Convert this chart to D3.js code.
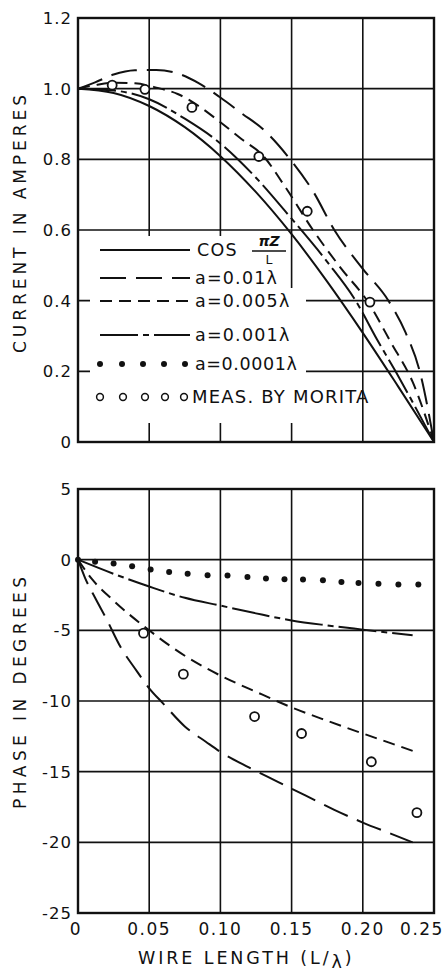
<!DOCTYPE html>
<html>
<head>
<meta charset="utf-8">
<script src="https://cdn.jsdelivr.net/npm/d3@7"></script>
<style>
  html, body { margin: 0; padding: 0; background: #fff; }
  svg { display: block; }
  text { font-family: "DejaVu Sans", sans-serif; fill: #111; }
</style>
</head>
<body>
<svg id="chart" width="444" height="972"></svg>
<script>
/* ── Data ──────────────────────────────────────────────────────── */
const X_TICKS      = [0, 0.05, 0.10, 0.15, 0.20, 0.25];
const X_LABELS     = ['0', '0.05', '0.10', '0.15', '0.20', '0.25'];
const AMP_TICKS    = [0, 0.2, 0.4, 0.6, 0.8, 1.0, 1.2];
const AMP_LABELS   = ['0', '0.2', '0.4', '0.6', '0.8', '1.0', '1.2'];
const DEG_TICKS    = [5, 0, -5, -10, -15, -20, -25];
const DEG_LABELS   = ['5', '0', '-5', '-10', '-15', '-20', '-25'];

// current (top panel)
const COS_X  = [0, 0.025, 0.05, 0.075, 0.10, 0.125, 0.15, 0.175, 0.20, 0.225, 0.25];
const COS_I  = [1.0, 0.988, 0.951, 0.891, 0.809, 0.707, 0.588, 0.454, 0.309, 0.156, 0];
const A001_X = [0, 0.025, 0.05, 0.075, 0.10, 0.125, 0.15, 0.175, 0.195, 0.21, 0.223, 0.25];
const A001_I = [1.0, 0.995, 0.970, 0.915, 0.845, 0.748, 0.632, 0.51, 0.40, 0.29, 0.20, 0];
const A005_X = [0, 0.012, 0.025, 0.04, 0.055, 0.07, 0.085, 0.10, 0.115, 0.13, 0.145, 0.165, 0.185, 0.203, 0.22, 0.235, 0.25];
const A005_I = [1.0, 1.01, 1.017, 1.015, 1.003, 0.985, 0.95, 0.905, 0.857, 0.81, 0.725, 0.60, 0.49, 0.40, 0.28, 0.17, 0];
const A01_X  = [0, 0.012, 0.025, 0.04, 0.055, 0.07, 0.085, 0.10, 0.115, 0.13, 0.149, 0.165, 0.18, 0.20, 0.218, 0.23, 0.24, 0.25];
const A01_I  = [1.0, 1.018, 1.04, 1.052, 1.053, 1.043, 1.015, 0.975, 0.93, 0.885, 0.80, 0.71, 0.60, 0.49, 0.40, 0.31, 0.20, 0];
const MEAS_I_X = [0.024, 0.047, 0.080, 0.127, 0.161, 0.205];
const MEAS_I   = [1.01, 0.998, 0.947, 0.808, 0.653, 0.396];

// phase (bottom panel)
const PH001_X  = [0, 0.025, 0.05, 0.075, 0.10, 0.125, 0.15, 0.175, 0.20, 0.235];
const PH001    = [0, -1.0, -1.9, -2.7, -3.25, -3.8, -4.3, -4.65, -4.95, -5.35];
const PH005_X  = [0, 0.01, 0.025, 0.05, 0.075, 0.10, 0.125, 0.15, 0.175, 0.20, 0.22, 0.237];
const PH005    = [0, -1.4, -2.9, -5.0, -6.8, -8.2, -9.35, -10.45, -11.4, -12.3, -13.0, -13.6];
const PH01_X   = [0, 0.005, 0.012, 0.02, 0.03, 0.04, 0.05, 0.06, 0.075, 0.09, 0.10, 0.12, 0.14, 0.16, 0.18, 0.20, 0.22, 0.235];
const PH01     = [0, -1.3, -2.7, -4.2, -6.2, -7.7, -9.1, -10.2, -11.8, -12.9, -13.6, -14.7, -15.7, -16.7, -17.7, -18.6, -19.4, -20.0];
const PH0001_X = [0, 0.012, 0.025, 0.038, 0.051, 0.064, 0.077, 0.091, 0.105, 0.119, 0.132, 0.145, 0.158, 0.172, 0.185, 0.197, 0.211, 0.225, 0.239];
const PH0001   = [0, -0.15, -0.28, -0.47, -0.69, -0.87, -0.99, -1.1, -1.12, -1.23, -1.33, -1.39, -1.4, -1.46, -1.58, -1.65, -1.7, -1.75, -1.75];
const MEAS_P_X = [0.046, 0.074, 0.124, 0.157, 0.206, 0.238];
const MEAS_P   = [-5.2, -8.1, -11.1, -12.3, -14.3, -17.9];

const LEGEND = ['COS', 'a=0.01λ', 'a=0.005λ', 'a=0.001λ', 'a=0.0001λ', 'MEAS. BY MORITA'];

/* ── Styles ────────────────────────────────────────────────────── */
const INK = '#111';
const DASH = {
  solid: null,
  a01:   '26,10',
  a005:  '12,7',
  a001:  '38,5,6,5',
};

const svg = d3.select('#chart');
svg.append('rect').attr('width', 444).attr('height', 972).attr('fill', '#fff');

const x = d3.scaleLinear().domain([0, 0.25]).range([78, 434]);
const yAmp = d3.scaleLinear().domain([0, 1.2]).range([442, 18]);
const yDeg = d3.scaleLinear().domain([-25, 5]).range([913, 489]);

const zip = (xs, ys) => xs.map((v, i) => [v, ys[i]]);

/* ── Panel frame + grid ─────────────────────────────────────────── */
function drawGrid(g, y, yTicks) {
  const [y0, y1] = y.range();
  g.selectAll('.vg').data(X_TICKS.slice(1, -1)).join('line')
    .attr('x1', d => x(d)).attr('x2', d => x(d))
    .attr('y1', y1).attr('y2', y0)
    .attr('stroke', INK).attr('stroke-width', 1.6);
  g.selectAll('.hg').data(yTicks.slice(1, -1)).join('line')
    .attr('x1', x(0)).attr('x2', x(0.25))
    .attr('y1', d => y(d)).attr('y2', d => y(d))
    .attr('stroke', INK).attr('stroke-width', 1.6);
}

function drawFrame(g, y) {
  const [y0, y1] = y.range();
  g.append('rect')
    .attr('x', x(0)).attr('y', y1)
    .attr('width', x(0.25) - x(0)).attr('height', y0 - y1)
    .attr('fill', 'none').attr('stroke', INK).attr('stroke-width', 2.4);
}

function yLabels(g, y, ticks, labels) {
  g.selectAll('.yl').data(ticks).join('text')
    .attr('x', 72).attr('y', d => y(d))
    .attr('dy', '0.36em')
    .attr('text-anchor', 'end')
    .attr('font-size', 16.5)
    .attr('letter-spacing', 1)
    .text((d, i) => labels[i]);
}

function curve(g, xs, ys, y, dash) {
  g.append('path')
    .datum(zip(xs, ys))
    .attr('fill', 'none')
    .attr('stroke', INK)
    .attr('stroke-width', 2)
    .attr('stroke-dasharray', dash)
    .attr('d', d3.line().x(d => x(d[0])).y(d => y(d[1])).curve(d3.curveMonotoneX));
}

/* ── Top panel: current ─────────────────────────────────────────── */
const topG = svg.append('g');
drawGrid(topG, yAmp, AMP_TICKS);

// white patch behind the legend (grid hidden there)
topG.append('rect').attr('x', 90).attr('y', 236).attr('width', 198).attr('height', 54).attr('fill', '#fff');
topG.append('rect').attr('x', 90).attr('y', 288).attr('width', 216).attr('height', 135).attr('fill', '#fff');

curve(topG, COS_X, COS_I, yAmp, DASH.solid);
curve(topG, A001_X, A001_I, yAmp, DASH.a001);
curve(topG, A005_X, A005_I, yAmp, DASH.a005);
curve(topG, A01_X, A01_I, yAmp, DASH.a01);

topG.selectAll('.mi').data(zip(MEAS_I_X, MEAS_I)).join('circle')
  .attr('cx', d => x(d[0])).attr('cy', d => yAmp(d[1])).attr('r', 4.5)
  .attr('fill', '#fff').attr('stroke', INK).attr('stroke-width', 1.8);

drawFrame(topG, yAmp);
yLabels(topG, yAmp, AMP_TICKS, AMP_LABELS);

// legend
const LEG_Y = [250, 278, 301, 335, 364, 397];
const leg = topG.append('g');
const sampleStyles = [DASH.solid, DASH.a01, DASH.a005, DASH.a001];
sampleStyles.forEach((dash, i) => {
  leg.append('line')
    .attr('x1', 100).attr('x2', 190)
    .attr('y1', LEG_Y[i]).attr('y2', LEG_Y[i])
    .attr('stroke', INK).attr('stroke-width', 2)
    .attr('stroke-dasharray', dash);
});
leg.selectAll('.ld').data([100, 122, 143, 164, 185]).join('circle')
  .attr('cx', d => d).attr('cy', LEG_Y[4]).attr('r', 3).attr('fill', INK);
leg.selectAll('.lo').data([100, 123, 145, 165, 184]).join('circle')
  .attr('cx', d => d).attr('cy', LEG_Y[5]).attr('r', 3.4)
  .attr('fill', '#fff').attr('stroke', INK).attr('stroke-width', 1.5);

LEGEND.forEach((t, i) => {
  leg.append('text')
    .attr('x', i === 0 ? 197 : (i === 5 ? 192 : 195))
    .attr('y', LEG_Y[i]).attr('dy', '0.36em')
    .attr('font-size', i === 5 ? 18 : 17.5)
    .attr('letter-spacing', i === 4 ? 0.6 : 1.2)
    .text(t);
});
// fraction πZ / L next to COS
leg.append('text').attr('x', 269).attr('y', 246).attr('text-anchor', 'middle')
  .attr('font-size', 14).attr('font-style', 'italic').attr('font-weight', 'bold').text('πZ');
leg.append('line').attr('x1', 252).attr('x2', 286).attr('y1', 251).attr('y2', 251)
  .attr('stroke', INK).attr('stroke-width', 1.4);
leg.append('text').attr('x', 269).attr('y', 264).attr('text-anchor', 'middle')
  .attr('font-size', 12.5).text('L');

/* ── Bottom panel: phase ────────────────────────────────────────── */
const botG = svg.append('g');
drawGrid(botG, yDeg, DEG_TICKS.slice().reverse());

curve(botG, PH001_X, PH001, yDeg, DASH.a001);
curve(botG, PH005_X, PH005, yDeg, DASH.a005);
curve(botG, PH01_X, PH01, yDeg, DASH.a01);

botG.selectAll('.pd').data(zip(PH0001_X, PH0001)).join('circle')
  .attr('cx', d => x(d[0])).attr('cy', d => yDeg(d[1])).attr('r', 3)
  .attr('fill', INK);

botG.selectAll('.mp').data(zip(MEAS_P_X, MEAS_P)).join('circle')
  .attr('cx', d => x(d[0])).attr('cy', d => yDeg(d[1])).attr('r', 4.5)
  .attr('fill', '#fff').attr('stroke', INK).attr('stroke-width', 1.8);

drawFrame(botG, yDeg);
yLabels(botG, yDeg, DEG_TICKS, DEG_LABELS);

botG.selectAll('.xl').data(X_TICKS).join('text')
  .attr('x', (d, i) => x(d) + (i === X_TICKS.length - 1 ? -12 : (i === 0 ? -2 : 0)))
  .attr('y', 935)
  .attr('text-anchor', 'middle')
  .attr('font-size', 17).attr('letter-spacing', 1.5)
  .text((d, i) => X_LABELS[i]);

/* ── Axis titles ───────────────────────────────────────────────── */
svg.append('text')
  .attr('transform', 'translate(26,224) rotate(-90)')
  .attr('text-anchor', 'middle')
  .attr('font-size', 17)
  .attr('textLength', 258).attr('lengthAdjust', 'spacing')
  .text('CURRENT  IN  AMPERES');

svg.append('text')
  .attr('transform', 'translate(26,693) rotate(-90)')
  .attr('text-anchor', 'middle')
  .attr('font-size', 17)
  .attr('textLength', 232).attr('lengthAdjust', 'spacing')
  .text('PHASE  IN  DEGREES');

const xt = svg.append('text')
  .attr('x', 138).attr('y', 964)
  .attr('font-size', 17.5).attr('letter-spacing', 2.9);
xt.append('tspan').text('WIRE  LENGTH (L/');
xt.append('tspan').attr('dy', 4).text('λ');
xt.append('tspan').attr('dy', -4).text(')');
</script>
</body>
</html>
